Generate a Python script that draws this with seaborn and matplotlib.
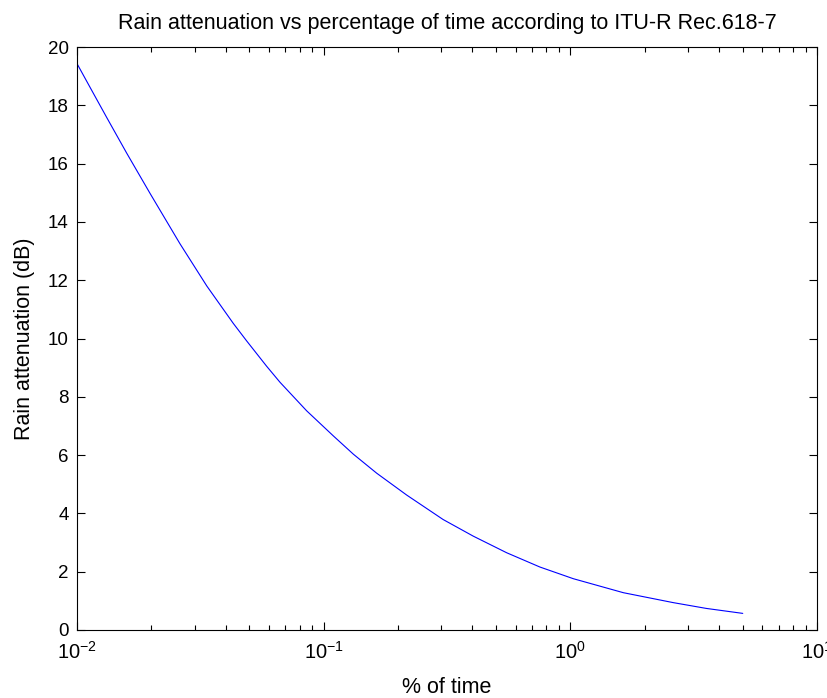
import matplotlib
matplotlib.use("Agg")
import matplotlib.pyplot as plt
import matplotlib.ticker as mticker
import seaborn as sns
import pandas as pd

# Data
percent_time = [0.01, 0.01129, 0.0132, 0.0159, 0.0198, 0.02615, 0.0336, 0.043,
                0.0487, 0.0587, 0.0665, 0.0853, 0.1094, 0.132, 0.164, 0.217,
                0.305, 0.404, 0.552, 0.753, 1.028, 1.64, 2.61, 3.56, 5.0]
rain_atten_db = [19.43, 18.62, 17.58, 16.36, 14.97, 13.25, 11.80, 10.52,
                 9.92, 9.05, 8.50, 7.52, 6.66, 6.03, 5.38, 4.63,
                 3.79, 3.22, 2.65, 2.16, 1.76, 1.28, 0.94, 0.74, 0.57]
y_ticks = [0, 2, 4, 6, 8, 10, 12, 14, 16, 18, 20]

title = "Rain attenuation vs percentage of time according to ITU-R Rec.618-7"
xlabel = "% of time"
ylabel = "Rain attenuation (dB)"

sns.set_style("ticks")
plt.rcParams['font.family'] = ['Liberation Sans', 'DejaVu Sans']
plt.rcParams['mathtext.fontset'] = 'custom'
plt.rcParams['mathtext.rm'] = 'Liberation Sans'
plt.rcParams['mathtext.it'] = 'Liberation Sans'
plt.rcParams['text.color'] = 'black'
plt.rcParams['axes.labelcolor'] = 'black'
plt.rcParams['xtick.color'] = 'black'
plt.rcParams['ytick.color'] = 'black'

df = pd.DataFrame({"p": percent_time, "A": rain_atten_db})

fig = plt.figure(figsize=(8.28, 6.98), dpi=100)
ax = fig.add_axes([77/828, 1 - 630/698, (817-77)/828, (630-47)/698])

sns.lineplot(data=df, x="p", y="A", ax=ax, color=(0, 0, 1), linewidth=0.8)

ax.set_xscale("log")
ax.set_xlim(1e-2, 1e1)
ax.set_ylim(0, 20)
ax.set_yticks(y_ticks)
ax.xaxis.set_major_locator(mticker.LogLocator(base=10, numticks=10))
ax.xaxis.set_minor_locator(mticker.LogLocator(base=10, subs=range(2, 10), numticks=20))
ax.xaxis.set_minor_formatter(mticker.NullFormatter())

for side in ["top", "right", "bottom", "left"]:
    ax.spines[side].set_visible(True)
    ax.spines[side].set_color("black")
    ax.spines[side].set_linewidth(0.8)

ax.tick_params(which="both", direction="in", top=True, right=True,
               colors="black", labelcolor="black", width=0.8)
ax.tick_params(which="major", length=6)
ax.tick_params(which="minor", length=3.5)
ax.tick_params(axis="y", which="major", labelsize=13.5, pad=6)
ax.tick_params(axis="x", which="major", labelsize=14.5, pad=8)

ax.set_title(title, fontsize=15.5, pad=13, color="black")
ax.set_xlabel(xlabel, fontsize=15.5, labelpad=10, color="black")
ax.set_ylabel(ylabel, fontsize=15.5, labelpad=9, color="black")
ax.grid(False)

fig.savefig("out.png", dpi=100, facecolor="white")
